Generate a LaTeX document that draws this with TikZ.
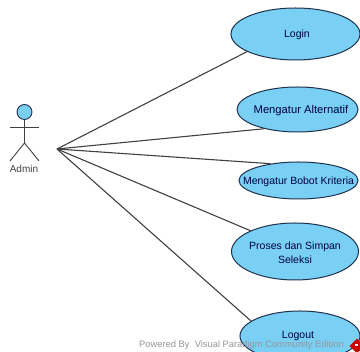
\documentclass[tikz,border=0pt]{standalone}
\usepackage{fontspec}
\setmainfont{Liberation Sans}
\usetikzlibrary{shapes.geometric}
\definecolor{ucfill}{RGB}{122,207,245}
\definecolor{ucline}{RGB}{30,50,75}
\definecolor{connline}{RGB}{65,65,65}
\definecolor{wmark}{RGB}{150,150,150}
\newcommand{\uctext}[1]{\raisebox{-2.5pt}[6pt][3pt]{#1}}
\tikzset{
  usecase/.style={ellipse,draw=ucline,fill=ucfill,line width=1pt,inner ysep=0pt,inner xsep=-16pt,align=center,font=\fontsize{10.5}{14.5}\selectfont,text=black!75!blue},
  conn/.style={draw=connline,line width=1.1pt},
  stick/.style={draw=black!75,line width=0.9pt},
}
\begin{document}
\begin{tikzpicture}[x=1pt,y=-1pt]
\useasboundingbox (0,0) rectangle (360,352);
\clip (0,0) rectangle (360,352);
\fill[white] (0,0) rectangle (360,352);
\coordinate (hub) at (57,149);
\node[usecase,minimum width=129pt,minimum height=52pt] (login) at (295.5,34) {\hspace{3pt}\uctext{Login}};
\node[usecase,minimum width=121pt,minimum height=45pt,font=\fontsize{11.2}{14}\selectfont] (alt) at (297.5,109.5) {\hspace{7pt}\uctext{Mengatur Alternatif}};
\node[usecase,minimum width=119pt,minimum height=37pt] (bobot) at (298.5,180.5) {\uctext{Mengatur Bobot Kriteria}};
\node[usecase,minimum width=127pt,minimum height=57pt] (proses) at (295,251.5) {\rule{0pt}{10.5pt}Proses dan Simpan\\Seleksi};
\node[usecase,minimum width=120pt,minimum height=50pt] (logout) at (300,336) {};
\node[font=\fontsize{10.5}{12}\selectfont,text=black!75!blue] (logouttext) at (298,335.5) {Logout};
\draw[conn] (hub) -- (login.200.4);
\draw[conn] (hub) -- (alt.210);
\draw[conn] (hub) -- (bobot.149);
\draw[conn] (hub) -- (proses.155.4);
\draw[conn] (hub) -- (logout.163);
% actor
\node[circle,draw=ucline,fill=ucfill,line width=0.9pt,minimum size=15pt,inner sep=0pt] (head) at (24.5,112) {};
\coordinate (hip) at (24.5,143);
\coordinate (armL) at (10,127);
\coordinate (armR) at (39,127);
\coordinate (legL) at (10,161);
\coordinate (legR) at (39,161);
\draw[stick] (head.south) -- (hip);
\draw[stick] (armL) -- (armR);
\draw[stick] (legL) -- (hip) -- (legR);
\node[font=\fontsize{10}{12}\selectfont,text=black!75] (admin) at (24,168.5) {Admin};
% watermark
\node[font=\fontsize{9.35}{12}\selectfont,text=wmark,anchor=west,inner sep=0pt] (wm) at (139,345.5) {Powered By\ \ Visual Paradigm Community Edition};
\node[diamond,fill=red!80!black,minimum size=15pt,inner sep=0pt] (logo) at (357,346) {};
\fill[white] (355.5,344) rectangle (358,346.5);
\end{tikzpicture}
\end{document}
